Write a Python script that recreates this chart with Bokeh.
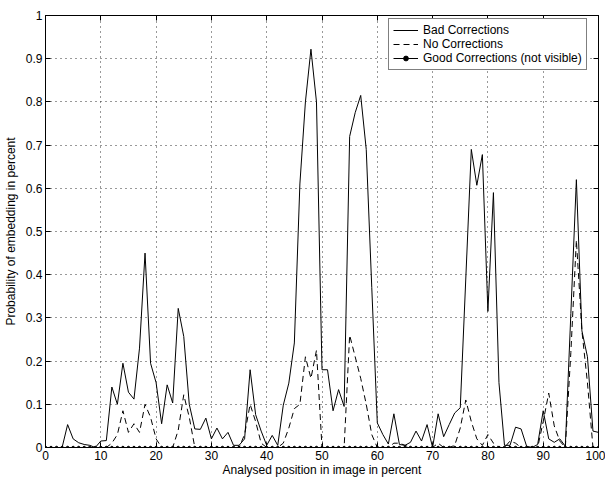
from bokeh.plotting import figure
from bokeh.models import Range1d, FixedTicker, LinearAxis
from bokeh.embed import file_html
from bokeh.resources import INLINE

# ---- data ----
position = list(range(0, 101))

bad_corrections = [
    0.0, 0.0, 0.0, 0.0, 0.053, 0.02, 0.011, 0.007, 0.005, 0.0,
    0.015, 0.016, 0.14, 0.10, 0.195, 0.128, 0.112, 0.23, 0.45, 0.195,
    0.15, 0.055, 0.145, 0.103, 0.322, 0.257, 0.10, 0.043, 0.042, 0.068,
    0.02, 0.045, 0.02, 0.035, 0.005, 0.005, 0.02, 0.18, 0.076, 0.038,
    0.005, 0.028, 0.005, 0.098, 0.149, 0.242, 0.61, 0.80, 0.922, 0.80,
    0.18, 0.18, 0.085, 0.134, 0.095, 0.72, 0.775, 0.815, 0.69, 0.37,
    0.057, 0.03, 0.008, 0.078, 0.007, 0.005, 0.012, 0.038, 0.015, 0.053,
    0.0, 0.078, 0.025, 0.053, 0.08, 0.092, 0.39, 0.69, 0.607, 0.678,
    0.315, 0.59, 0.15, 0.005, 0.005, 0.047, 0.043, 0.003, 0.0, 0.007,
    0.085, 0.02, 0.012, 0.02, 0.003, 0.31, 0.62, 0.27, 0.21, 0.038,
    0.035,
]

no_corrections = [
    0.0, 0.0, 0.0, 0.0, 0.0, 0.0, 0.0, 0.0, 0.0, 0.0,
    0.0, 0.0, 0.01, 0.03, 0.085, 0.035, 0.055, 0.035, 0.10, 0.07,
    0.02, 0.0, 0.0, 0.0, 0.04, 0.122, 0.07, 0.0, 0.0, 0.0,
    0.0, 0.0, 0.0, 0.0, 0.0, 0.0, 0.03, 0.10, 0.06, 0.01,
    0.0, 0.0, 0.0, 0.01, 0.045, 0.09, 0.10, 0.21, 0.16, 0.225,
    0.0, 0.0, 0.0, 0.0, 0.0, 0.26, 0.21, 0.16, 0.10, 0.03,
    0.0, 0.0, 0.0, 0.01, 0.01, 0.005, 0.0, 0.0, 0.0, 0.0,
    0.0, 0.01, 0.0, 0.0, 0.005, 0.045, 0.11, 0.06, 0.02, 0.005,
    0.03, 0.01, 0.0, 0.0, 0.015, 0.01, 0.0, 0.0, 0.0, 0.0,
    0.06, 0.126, 0.05, 0.015, 0.0, 0.22, 0.48, 0.27, 0.15, 0.0,
    0.0,
]

good_corrections = [
    0.0, 0.0, 0.0, 0.0, 0.0, 0.0, 0.0, 0.0, 0.0, 0.0,
    0.0, 0.0, 0.0, 0.0, 0.0, 0.0, 0.0, 0.0, 0.0, 0.0,
    0.0, 0.0, 0.0, 0.0, 0.0, 0.0, 0.0, 0.0, 0.0, 0.0,
    0.0, 0.0, 0.0, 0.0, 0.0, 0.0, 0.0, 0.0, 0.0, 0.0,
    0.0, 0.0, 0.0, 0.0, 0.0, 0.0, 0.0, 0.0, 0.0, 0.0,
    0.0, 0.0, 0.0, 0.0, 0.0, 0.0, 0.0, 0.0, 0.0, 0.0,
    0.0, 0.0, 0.0, 0.0, 0.0, 0.0, 0.0, 0.0, 0.0, 0.0,
    0.0, 0.0, 0.0, 0.0, 0.0, 0.0, 0.0, 0.0, 0.0, 0.0,
    0.0, 0.0, 0.0, 0.0, 0.0, 0.0, 0.0, 0.0, 0.0, 0.0,
    0.0, 0.0, 0.0, 0.0, 0.0, 0.0, 0.0, 0.0, 0.0, 0.0,
    0.0,
]

x_ticks = [0, 10, 20, 30, 40, 50, 60, 70, 80, 90, 100]
y_ticks = [0, 0.1, 0.2, 0.3, 0.4, 0.5, 0.6, 0.7, 0.8, 0.9, 1]
y_tick_labels = ["0", "0.1", "0.2", "0.3", "0.4", "0.5", "0.6", "0.7", "0.8", "0.9", "1"]

FONT = "Liberation Sans"
FS = "12px"

p = figure(
    width=605, height=479,
    x_range=Range1d(0, 100), y_range=Range1d(0, 1),
    output_backend="svg", toolbar_location=None,
    min_border_left=45, min_border_top=15, min_border_right=7, min_border_bottom=31,
    background_fill_color="white", border_fill_color="white",
)

p.outline_line_color = "black"
p.outline_line_width = 1

# axes
for ax, ticks in ((p.xaxis[0], x_ticks), (p.yaxis[0], y_ticks)):
    ax.ticker = FixedTicker(ticks=ticks)
    ax.major_tick_in = 5
    ax.major_tick_out = 0
    ax.minor_tick_in = 0
    ax.minor_tick_out = 0
    ax.axis_line_color = "black"
    ax.major_tick_line_color = "black"
    ax.major_label_text_font = FONT
    ax.major_label_text_font_size = FS
    ax.major_label_text_color = "black"
    ax.axis_label_text_font = FONT
    ax.axis_label_text_font_size = FS
    ax.axis_label_text_font_style = "normal"
    ax.axis_label_text_color = "black"

p.xaxis.axis_label = "Analysed position in image in percent"
p.yaxis.axis_label = "Probability of embedding in percent"
p.xaxis.major_label_standoff = 3
p.xaxis.axis_label_standoff = 0
p.yaxis.major_label_standoff = 3
p.yaxis.axis_label_standoff = 5
p.yaxis.major_label_overrides = dict(zip(y_ticks, y_tick_labels))

# mirror axes (inward ticks only) on top and right; their labels are not painted
top_ax = LinearAxis(ticker=FixedTicker(ticks=x_ticks), major_tick_in=5, major_tick_out=0,
                    minor_tick_in=0, minor_tick_out=0, major_label_text_font_size="1px",
                    major_label_text_color=None, major_label_standoff=0,
                    axis_line_color="black")
right_ax = LinearAxis(ticker=FixedTicker(ticks=y_ticks), major_tick_in=5, major_tick_out=0,
                      minor_tick_in=0, minor_tick_out=0, major_label_text_font_size="1px",
                      major_label_text_color=None, major_label_standoff=0,
                      axis_line_color="black")
p.add_layout(top_ax, "above")
p.add_layout(right_ax, "right")

# grid
p.xgrid.ticker = FixedTicker(ticks=x_ticks)
p.ygrid.ticker = FixedTicker(ticks=y_ticks)
for g in (p.xgrid, p.ygrid):
    g.grid_line_color = "#333333"
    g.grid_line_dash = "1 4"
    g.grid_line_width = 1

# series
p.line(position, bad_corrections, line_color="black", line_width=1, legend_label="Bad Corrections")
p.line(position, no_corrections, line_color="black", line_width=1, line_dash="6 4",
       legend_label="No Corrections")
p.line(position, good_corrections, line_color="black", line_width=1,
       legend_label="Good Corrections (not visible)")
p.scatter(position, good_corrections, marker="circle", size=2.5, fill_color="black", line_color="black",
          legend_label="Good Corrections (not visible)")

lg = p.legend[0]
lg.location = (343, 377)
lg.margin = 0
lg.padding = 4
lg.spacing = 0
lg.glyph_width = 25
lg.glyph_height = 12
lg.label_height = 12
lg.label_standoff = 5
lg.label_text_font = FONT
lg.label_text_font_size = FS
lg.label_text_color = "black"
lg.border_line_color = "black"
lg.border_line_width = 1
lg.background_fill_color = "white"
lg.background_fill_alpha = 1.0

open("out.html", "w").write(file_html(p, INLINE))
